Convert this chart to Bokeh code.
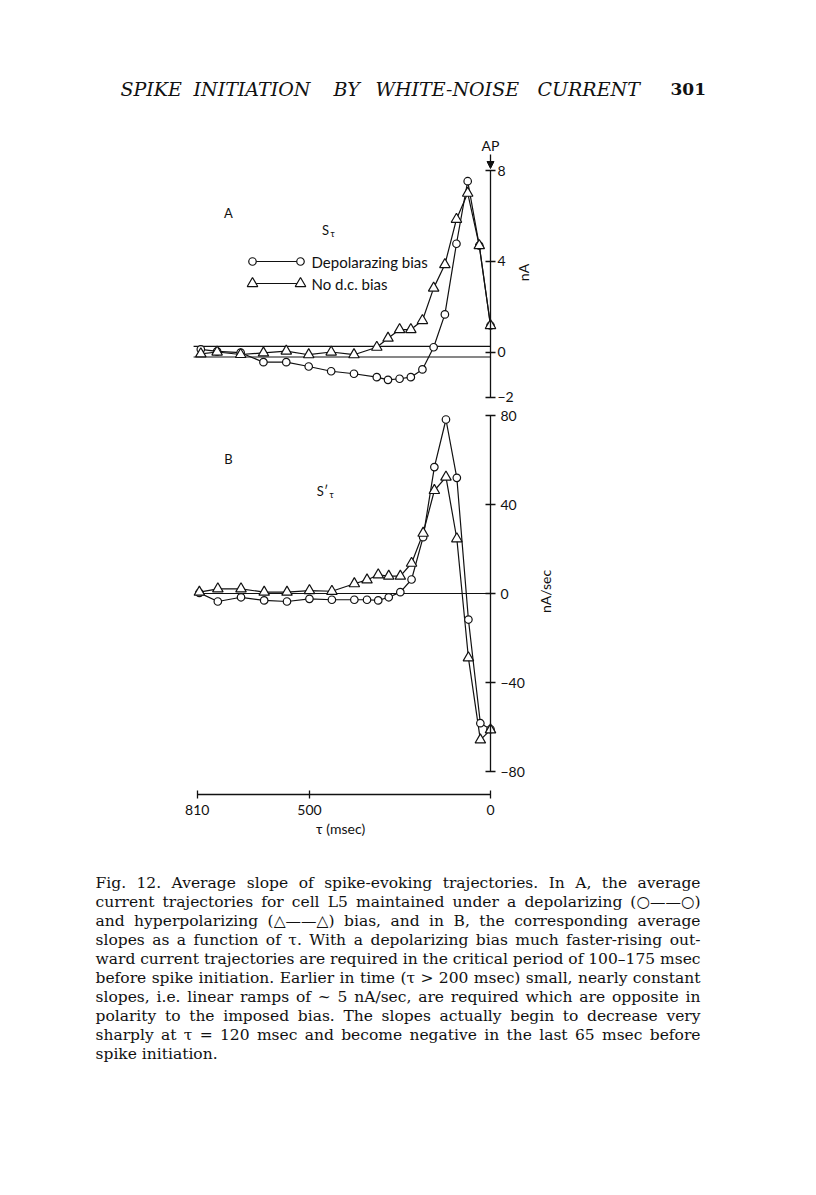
from bokeh.plotting import figure
from bokeh.models import Range1d, LinearAxis, FixedTicker, Arrow, NormalHead
from bokeh.core.properties import value
from bokeh.embed import file_html
from bokeh.resources import INLINE
import math

# ---------------- data ----------------
tau_a = [800, 755, 690, 627, 564, 502, 440, 377, 314, 283, 251, 220, 188, 157, 126, 94, 63, 31, 0]
a_depol = [0.12, 0.03, -0.03, -0.45, -0.45, -0.64, -0.85, -0.96, -1.11, -1.23, -1.18, -1.11,
           -0.77, 0.21, 1.66, 4.78, 7.54, 4.70, 1.17]
a_nobias = [-0.08, 0.0, -0.11, -0.04, 0.04, -0.12, 0.0, -0.12, 0.21, 0.61, 0.99, 0.99,
            1.39, 2.82, 3.86, 5.86, 7.01, 4.70, 1.17]

tau_b = [804, 753, 689, 625, 562, 500, 438, 376, 341, 310, 281, 249, 218, 186, 155, 123, 93, 61, 28, 0]
b_depol = [0.3, -3.6, -1.7, -3.1, -3.6, -2.4, -2.8, -2.8, -2.8, -3.1, -1.7, 0.6,
           6.3, 25.3, 56.8, 78.2, 52.0, -11.7, -58.3, -61.0]
b_nobias = [0.6, 2.1, 2.1, 0.6, 0.6, 1.3, 1.0, 4.4, 6.1, 8.4, 7.8, 7.8,
            13.6, 27.1, 46.3, 52.3, 24.6, -28.9, -65.8, -61.3]

a_band = [0.25, -0.22]          # nA, bias band lines in A
b_zero = [0]                    # nA/sec zero line in B
band_start = 820                # msec
a_ticks = [-2, 0, 4, 8]
b_ticks = [-80, -40, 0, 40, 80]
x_ticks = [810, 500, 0]

header_words = ["SPIKE", "INITIATION", "BY", "WHITE-NOISE", "CURRENT"]
page_number = "301"
caption_lines = [
    "Fig. 12. Average slope of spike-evoking trajectories. In A, the average",
    "current trajectories for cell L5 maintained under a depolarizing (\u25cb\u2014\u2014\u25cb)",
    "and hyperpolarizing (\u25b3\u2014\u2014\u25b3) bias, and in B, the corresponding average",
    "slopes as a function of \u03c4. With a depolarizing bias much faster-rising out-",
    "ward current trajectories are required in the critical period of 100\u2013175 msec",
    "before spike initiation. Earlier in time (\u03c4 > 200 msec) small, nearly constant",
    "slopes, i.e. linear ramps of ~ 5 nA/sec, are required which are opposite in",
    "polarity to the imposed bias. The slopes actually begin to decrease very",
    "sharply at \u03c4 = 120 msec and become negative in the last 65 msec before",
    "spike initiation.",
]

# ---------------- geometry (page pixels) ----------------
W, H = 800, 1179
X0, XS = 490.0, 293.3 / 810.0      # page x of tau=0, px per msec
A0, AS = 351.5, 22.65              # page y of 0 nA, px per nA
B0, BS = 593.0, 2.225              # page y of 0 nA/sec, px per unit
TOP, BOT, LEFT, RIGHT = 0, H, 0, W

x_range = Range1d((X0 - LEFT) / XS, (X0 - RIGHT) / XS)
y_range = Range1d((A0 - BOT) / AS, (A0 - TOP) / AS)

p = figure(width=W, height=H, x_range=x_range, y_range=y_range,
           output_backend="svg", toolbar_location=None,
           x_axis_location=None, y_axis_location=None,
           min_border=0, outline_line_color=None,
           background_fill_color="white", border_fill_color="white")
p.xgrid.grid_line_color = None
p.ygrid.grid_line_color = None
p.extra_y_ranges = {"B": Range1d((B0 - BOT) / BS, (B0 - TOP) / BS),
                    "py": Range1d(BOT, TOP)}
p.extra_x_ranges = {"px": Range1d(LEFT, RIGHT)}

INK = "#111111"
SANS = "Lato"
SERIF = "DejaVu Serif"

def axis_style(ax):
    ax.axis_line_color = INK
    ax.axis_line_width = 1.3
    ax.major_tick_line_color = INK
    ax.major_tick_line_width = 1.3
    ax.minor_tick_line_color = None
    ax.major_label_text_font = SANS
    ax.major_label_text_font_size = "14px"
    ax.major_label_text_color = INK

# panel A axis
ax_a = LinearAxis(fixed_location=0, bounds=(min(a_ticks), max(a_ticks)),
                  ticker=FixedTicker(ticks=a_ticks),
                  major_tick_in=5, major_tick_out=5, major_label_standoff=2,
                  major_label_overrides={t: str(t).replace("-", "\u2212") for t in a_ticks})
axis_style(ax_a)
p.add_layout(ax_a, "right")

# panel B axis
ax_b = LinearAxis(y_range_name="B", fixed_location=0, bounds=(min(b_ticks), max(b_ticks)),
                  ticker=FixedTicker(ticks=b_ticks),
                  major_tick_in=5, major_tick_out=5, major_label_standoff=5,
                  major_label_overrides={t: str(t).replace("-", "\u2212") for t in b_ticks})
axis_style(ax_b)
p.add_layout(ax_b, "right")

# time axis
ax_x = LinearAxis(fixed_location=(A0 - 794) / AS, bounds=(min(x_ticks), max(x_ticks)),
                  ticker=FixedTicker(ticks=x_ticks),
                  major_tick_in=4, major_tick_out=4, major_label_standoff=6)
axis_style(ax_x)
p.add_layout(ax_x, "below")

# band / zero lines
p.segment(x0=[band_start] * len(a_band), y0=a_band, x1=[0] * len(a_band), y1=a_band,
          line_color=INK, line_width=1.2)
p.segment(x0=[band_start - 5] * len(b_zero), y0=b_zero, x1=[0] * len(b_zero), y1=b_zero,
          line_color=INK, line_width=1.2, y_range_name="B")

# series lines
p.line(tau_a, a_depol, line_color=INK, line_width=1.2)
p.line(tau_a, a_nobias, line_color=INK, line_width=1.2)
p.line(tau_b, b_depol, line_color=INK, line_width=1.2, y_range_name="B")
p.line(tau_b, b_nobias, line_color=INK, line_width=1.2, y_range_name="B")

# markers
p.scatter(tau_a, a_depol, marker="circle", size=7.5, fill_color="white", line_color=INK, line_width=1.2)
p.scatter(tau_a, a_nobias, marker="triangle", size=10.5, fill_color="white", line_color=INK, line_width=1.2)
p.scatter(tau_b, b_depol, marker="circle", size=7.5, fill_color="white", line_color=INK, line_width=1.2,
          y_range_name="B")
p.scatter(tau_b, b_nobias, marker="triangle", size=10.5, fill_color="white", line_color=INK, line_width=1.2,
          y_range_name="B")

def txt(x, y, t, size="14px", font=SANS, align="left", baseline="middle", style="normal", angle=0.0):
    p.text(x=[x], y=[y], text=[t], x_range_name="px", y_range_name="py",
           text_font=value(font), text_font_size=value(size), text_color=INK,
           text_align=align, text_baseline=baseline, text_font_style=style, angle=angle)

# legend (panel A)
for yy, mk, sz, label in [(261, "circle", 7.5, "Depolarazing bias"), (283, "triangle", 10.5, "No d.c. bias")]:
    p.line([252, 300], [yy, yy], line_color=INK, line_width=1.2, x_range_name="px", y_range_name="py")
    p.scatter([252, 300], [yy, yy], marker=mk, size=sz, fill_color="white", line_color=INK,
              line_width=1.2, x_range_name="px", y_range_name="py")
    txt(311, yy, label, size="15px")

# panel labels
txt(228, 212, "A", size="13px", align="center")
txt(325, 229, "S", size="13px", align="center")
txt(332, 233, "\u03c4", size="9px", align="center")
txt(228, 458, "B", size="13px", align="center")
txt(322, 490, "S\u2032", size="13px", align="center")
txt(331, 494, "\u03c4", size="9px", align="center")

# AP marker
txt(490, 145, "AP", size="14px", align="center")
p.add_layout(Arrow(x_start=490, y_start=154, x_end=490, y_end=168,
                   x_range_name="px", y_range_name="py", line_color=INK, line_width=1.3,
                   end=NormalHead(size=7, fill_color=INK, line_color=INK)))

# unit labels
txt(523, 272, "nA", size="14px", align="center", angle=math.pi / 2)
txt(545, 591, "nA/sec", size="14px", align="center", angle=math.pi / 2)
txt(340, 828, "\u03c4 (msec)", size="14px", align="center")

# header
for word, xw in zip(header_words, [120, 193, 333, 375, 537]):
    txt(xw, 88, word, size="19px", font=SERIF, baseline="alphabetic", style="italic")
txt(670, 88, page_number, size="17px", font=SERIF, baseline="alphabetic", style="bold")

# caption, justified with approximate DejaVu Serif advance widths (em)
CW = dict(zip("abcdefghijklmnopqrstuvwxyz",
              [.596, .640, .560, .640, .592, .370, .640, .644, .320, .310, .606, .320, .948,
               .644, .602, .640, .640, .478, .513, .402, .644, .565, .856, .564, .565, .523]))
CW.update(zip("ABCDEFGHIJKLMNOPQRSTUVWXYZ",
              [.722, .735, .765, .802, .730, .694, .799, .872, .395, .401, .747, .664, 1.024,
               .875, .820, .673, .820, .753, .685, .667, .843, .722, 1.028, .712, .660, .695]))
CW.update({c: .636 for c in "0123456789"})
CW.update({".": .318, ",": .318, "-": .338, "(": .390, ")": .390, ">": .838, "=": .838,
           "~": .838, "/": .337, "\u2013": .5, "\u2014": 1.0, "\u25cb": .87, "\u25b3": .77,
           "\u03c4": .55})

CAP_SIZE = 15.5
CAP_LEFT, CAP_RIGHT = 95, 700

def word_w(w):
    return sum(CW.get(c, .6) for c in w) * CAP_SIZE

for i, line in enumerate(caption_lines):
    yb = 882 + 19 * i
    words = line.split(" ")
    if i == len(caption_lines) - 1:
        txt(CAP_LEFT, yb, line, size=f"{CAP_SIZE}px", font=SERIF, baseline="alphabetic")
        continue
    total = sum(word_w(w) for w in words)
    gap = max((CAP_RIGHT - CAP_LEFT - total) / (len(words) - 1), 3.0)
    xcur = CAP_LEFT
    for j, w in enumerate(words):
        if j == len(words) - 1:
            txt(CAP_RIGHT, yb, w, size=f"{CAP_SIZE}px", font=SERIF, baseline="alphabetic", align="right")
        else:
            txt(xcur, yb, w, size=f"{CAP_SIZE}px", font=SERIF, baseline="alphabetic")
        xcur += word_w(w) + gap

open("out.html", "w").write(file_html(p, INLINE))
